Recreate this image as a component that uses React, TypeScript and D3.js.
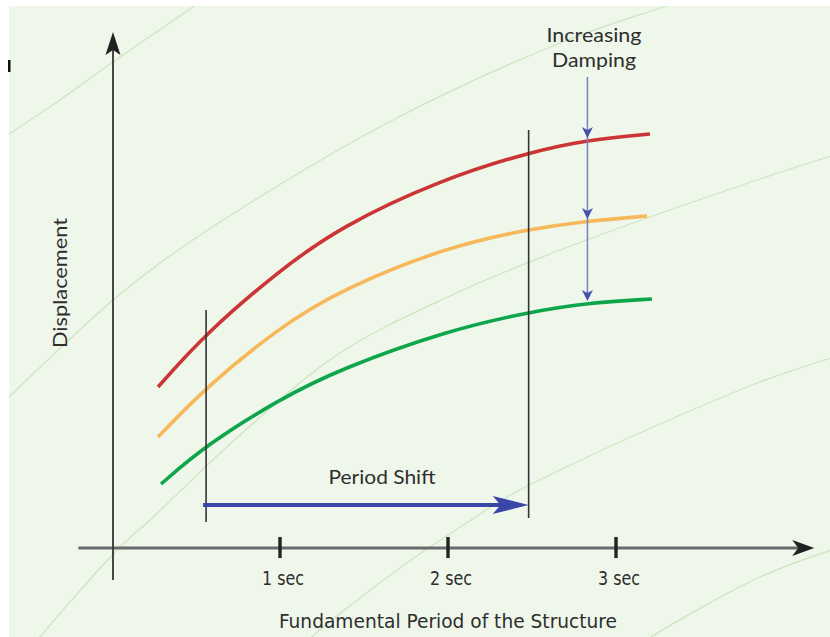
import React from "react";
import * as d3 from "d3";

// ---- data (period in seconds, displacement in arbitrary units) ----
const tickValues = [1, 2, 3];
const tickLabels = ["1 sec", "2 sec", "3 sec"];

const redPeriods = [0.274, 0.56, 1.0, 1.357, 1.952, 2.488, 2.827, 3.202];
const redDisp = [3.22, 4.3, 5.56, 6.42, 7.36, 7.92, 8.16, 8.28];

const orangePeriods = [0.274, 0.56, 1.0, 1.357, 2.006, 2.488, 2.827, 3.185];
const orangeDisp = [2.22, 3.22, 4.42, 5.16, 6.04, 6.38, 6.54, 6.64];

const greenPeriods = [0.292, 0.56, 1.0, 1.357, 2.006, 2.488, 2.827, 3.214];
const greenDisp = [1.28, 2.06, 2.98, 3.58, 4.36, 4.72, 4.9, 4.98];

// faint decorative background curves
const bg1P = [-0.62, -0.31, 0.006, 0.48, 0.7];
const bg1D = [8.26, 8.96, 9.72, 10.82, 11.36];
const bg2P = [-0.62, 0.006, 0.286, 0.821, 1.673, 2.667, 3.262, 3.5];
const bg2D = [3.0, 4.96, 5.7, 6.9, 8.56, 10.1, 10.8, 11.06];
const bg3P = [-0.488, -0.429, 0.048, 0.226, 0.762, 1.357, 2.012, 2.667, 3.857, 4.3];
const bg3D = [-2.04, -1.78, 0.02, 0.56, 2.26, 3.9, 5.04, 5.96, 7.38, 7.86];
const bg4P = [1.119, 1.19, 1.714, 2.137, 2.351, 2.667, 3.262, 3.857, 4.3];
const bg4D = [-2.04, -1.78, -0.4, 0.56, 1.02, 1.56, 2.48, 3.32, 3.82];
const bg5P = [3.143, 3.208, 3.857, 4.3];
const bg5D = [-1.94, -1.78, -0.58, -0.02];

const shiftStart = 0.56;
const shiftEnd = 2.48;
const dampingPeriod = 2.83;
const dampingTips = [8.2, 6.58, 4.94];

const xTitle = "Fundamental Period of the Structure";
const yTitle = "Displacement";
const shiftLabel = "Period Shift";
const dampingLabel = ["Increasing", "Damping"];

const W = 830;
const H = 637;

export default function App() {
  const x = d3.scaleLinear().domain([0, 4]).range([112, 784]);
  const y = d3.scaleLinear().domain([0, 10]).range([548, 48]);

  const smooth = d3
    .line<[number, number]>()
    .x((d) => x(d[0]))
    .y((d) => y(d[1]))
    .curve(d3.curveBasis);

  const line = d3
    .line<[number, number]>()
    .x((d) => x(d[0]))
    .y((d) => y(d[1]))
    .curve(d3.curveCatmullRom.alpha(0.5));

  const zip = (a: number[], b: number[]) => a.map((v, i) => [v, b[i]] as [number, number]);

  const series = [
    { p: redPeriods, d: redDisp, c: "#cc3535" },
    { p: orangePeriods, d: orangeDisp, c: "#f7b85c" },
    { p: greenPeriods, d: greenDisp, c: "#0ea64b" },
  ];
  const bgs = [
    [bg1P, bg1D],
    [bg2P, bg2D],
    [bg3P, bg3D],
    [bg4P, bg4D],
    [bg5P, bg5D],
  ];

  const condensed = "'Liberation Sans Narrow', 'DejaVu Sans Condensed', 'Roboto', sans-serif";
  const regular = "'Lato', 'Noto Sans', 'Open Sans', sans-serif";
  const ink = "#2e2e2e";

  // axis geometry (derived from scales)
  const ax0 = x(0) + 1;
  const axBottom = y(-0.64);
  const axTop = y(10.32);
  const xAxY = y(0);
  const xStart = x(-0.2);
  const xEnd = x(4.18);

  const stealthUp = (cx: number, tipY: number, len: number, hw: number, notch: number) =>
    `M${cx},${tipY} L${cx + hw},${tipY + len} L${cx},${tipY + len - notch} L${cx - hw},${tipY + len} Z`;
  const stealthDown = (cx: number, tipY: number, len: number, hw: number, notch: number) =>
    `M${cx},${tipY} L${cx + hw},${tipY - len} L${cx},${tipY - len + notch} L${cx - hw},${tipY - len} Z`;
  const stealthRight = (tipX: number, cy: number, len: number, hh: number, notch: number) =>
    `M${tipX},${cy} L${tipX - len},${cy - hh} L${tipX - len + notch},${cy} L${tipX - len},${cy + hh} Z`;

  const xs0 = x(shiftStart);
  const xs1 = x(shiftEnd);
  const shiftY = y(0.86);
  const dx = x(dampingPeriod);

  return (
    <svg
      width={W}
      height={H}
      style={{ position: "absolute", left: 0, top: 0, display: "block" }}
      xmlns="http://www.w3.org/2000/svg"
    >
      <defs>
        <clipPath id="bgclip">
          <rect x={9} y={6} width={W - 9} height={H - 6} />
        </clipPath>
      </defs>
      <rect x={0} y={0} width={W} height={H} fill="#ffffff" />
      <rect x={9} y={6} width={W - 9} height={H - 6} fill="#eff7eb" />
      <rect x={8} y={60} width={2.5} height={12} fill="#111" />

      <g clipPath="url(#bgclip)">
        {bgs.map((b, i) => (
          <path
            key={i}
            d={line(zip(b[0], b[1])) || ""}
            fill="none"
            stroke="#cde5bf"
            strokeWidth={1.3}
          />
        ))}
      </g>

      {/* x axis */}
      <line x1={xStart} x2={xEnd - 12} y1={xAxY} y2={xAxY} stroke="#6a6a6a" strokeWidth={3} />
      <path d={stealthRight(xEnd, xAxY, 22, 8, 6)} fill="#222" />
      {tickValues.map((t, i) => (
        <g key={t}>
          <line x1={x(t)} x2={x(t)} y1={xAxY - 11} y2={xAxY + 10} stroke="#222" strokeWidth={3.4} />
          <text
            x={x(t) + 3}
            y={585}
            textAnchor="middle"
            fontFamily={condensed}
            fontSize={19}
            fill={ink}
            textLength={42}
            lengthAdjust="spacingAndGlyphs"
          >
            {tickLabels[i]}
          </text>
        </g>
      ))}
      <text
        x={448}
        y={628}
        textAnchor="middle"
        fontFamily={condensed}
        fontSize={20}
        fill={ink}
        textLength={338}
        lengthAdjust="spacingAndGlyphs"
      >
        {xTitle}
      </text>

      {/* y axis */}
      <line x1={ax0} x2={ax0} y1={axBottom} y2={axTop + 14} stroke="#333" strokeWidth={1.8} />
      <path d={stealthUp(ax0, axTop, 23, 7.5, 5)} fill="#222" />
      <text
        transform={`translate(67,283) rotate(-90)`}
        textAnchor="middle"
        fontFamily={regular}
        fontSize={19}
        fill={ink}
        textLength={130}
        lengthAdjust="spacingAndGlyphs"
      >
        {yTitle}
      </text>

      {/* response curves */}
      {series.map((s, i) => (
        <path
          key={i}
          d={smooth(zip(s.p, s.d)) || ""}
          fill="none"
          stroke={s.c}
          strokeWidth={3.6}
          strokeLinecap="butt"
        />
      ))}

      {/* period markers */}
      <line x1={xs0} x2={xs0} y1={310} y2={522} stroke="#333" strokeWidth={1.6} />
      <line x1={xs1} x2={xs1} y1={130} y2={518} stroke="#333" strokeWidth={1.6} />

      {/* period shift arrow */}
      <line x1={xs0 - 3} x2={xs1 - 20} y1={shiftY} y2={shiftY} stroke="#3a46a8" strokeWidth={3.8} />
      <path d={stealthRight(xs1, shiftY, 36, 9, 8)} fill="#3a46a8" />
      <text
        x={382}
        y={484}
        textAnchor="middle"
        fontFamily={regular}
        fontSize={20}
        fill={ink}
        textLength={107}
        lengthAdjust="spacingAndGlyphs"
      >
        {shiftLabel}
      </text>

      {/* increasing damping arrows */}
      <line x1={dx} x2={dx} y1={77} y2={y(dampingTips[2]) - 3} stroke="#7382c4" strokeWidth={1.5} />
      {dampingTips.map((t, i) => (
        <path key={i} d={stealthDown(dx, y(t), 11, 5.5, 3)} fill="#4454ad" />
      ))}
      {dampingLabel.map((s, i) => (
        <text
          key={i}
          x={594}
          y={42 + i * 25}
          textAnchor="middle"
          fontFamily={regular}
          fontSize={19}
          fill={ink}
          textLength={i === 0 ? 95 : 84}
          lengthAdjust="spacingAndGlyphs"
        >
          {s}
        </text>
      ))}
    </svg>
  );
}
